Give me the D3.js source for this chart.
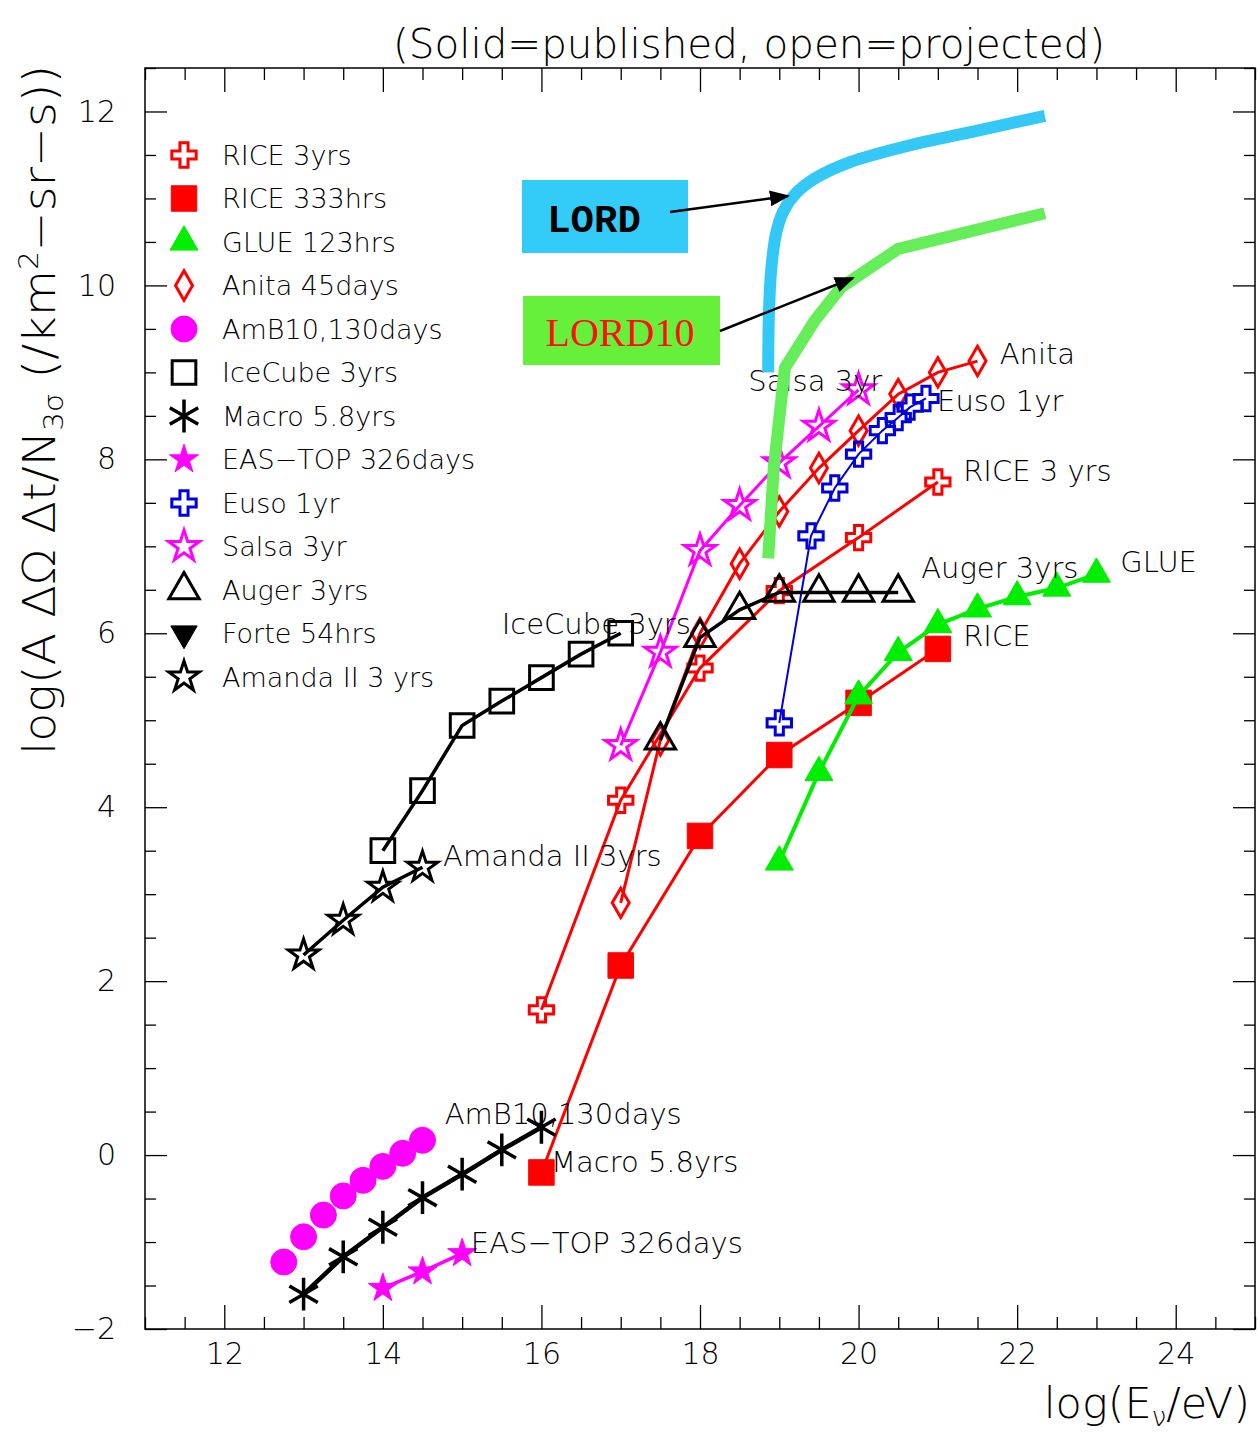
<!DOCTYPE html>
<html>
<head>
<meta charset="utf-8">
<title>Neutrino experiment apertures</title>
<script src="https://cdn.jsdelivr.net/npm/d3@7"></script>
<style>
  body { margin: 0; background: #fff; }
  text { font-family: "DejaVu Sans", sans-serif; font-weight: 200; fill: #000; }
  .tick line { stroke: #000; stroke-width: 1.3; }
</style>
</head>
<body>
<script>
// values: log10(E/eV) on x, log(aperture) on y
var riceX      = [16, 17, 18, 19, 20, 21];
var rice3yrY   = [1.67, 4.08, 5.6, 6.49, 7.1, 7.74];
var rice333Y   = [-0.2, 2.18, 3.67, 4.6, 5.2, 5.82];
var glueX      = [19, 19.5, 20, 20.5, 21, 21.5, 22, 22.5, 23];
var glueY      = [3.37, 4.4, 5.28, 5.78, 6.1, 6.28, 6.42, 6.52, 6.68];
var anitaX     = [17, 17.5, 18, 18.5, 19, 19.5, 20, 20.5, 21, 21.5];
var anitaY     = [2.9, 4.77, 6.0, 6.8, 7.4, 7.9, 8.33, 8.75, 9.0, 9.13];
var amb10X     = [12.75, 13, 13.25, 13.5, 13.75, 14, 14.25, 14.5];
var amb10Y     = [-1.23, -0.94, -0.69, -0.47, -0.29, -0.13, 0.02, 0.17];
var icecubeX   = [14, 14.5, 15, 15.5, 16, 16.5, 17];
var icecubeY   = [3.5, 4.19, 4.94, 5.22, 5.49, 5.76, 6.0];
var macroX     = [13, 13.5, 14, 14.5, 15, 15.5, 16];
var macroY     = [-1.6, -1.17, -0.83, -0.49, -0.22, 0.06, 0.32];
var eastopX    = [14, 14.5, 15];
var eastopY    = [-1.53, -1.34, -1.13];
var eusoX      = [19, 19.4, 19.7, 20, 20.3, 20.5, 20.65, 20.85];
var eusoY      = [4.97, 7.12, 7.67, 8.06, 8.33, 8.48, 8.6, 8.7];
var salsaX     = [17, 17.5, 18, 18.5, 19, 19.5, 20];
var salsaY     = [4.71, 5.78, 6.95, 7.47, 7.96, 8.38, 8.8];
var augerX     = [17.5, 18, 18.5, 19, 19.5, 20, 20.5];
var augerY     = [4.77, 5.95, 6.27, 6.47, 6.47, 6.47, 6.47];
var forteX     = [];
var forteY     = [];
var amandaX    = [13, 13.5, 14, 14.5];
var amandaY    = [2.3, 2.7, 3.08, 3.31];

// LORD projections (thick curves)
var lordX   = [18.86, 18.87, 18.9, 18.96, 19.05, 19.2, 19.45, 19.9, 20.6, 21.5, 22.35];
var lordY   = [9.0, 9.7, 10.2, 10.6, 10.85, 11.05, 11.23, 11.42, 11.6, 11.78, 11.95];
var lord10X = [18.86, 18.93, 19.07, 19.45, 19.78, 20.5, 22.35];
var lord10Y = [6.86, 7.9, 9.05, 9.6, 9.98, 10.42, 10.83];

var xTicks = [12, 14, 16, 18, 20, 22, 24];
var yTicks = [-2, 0, 2, 4, 6, 8, 10, 12];

var W = 1258, H = 1435;
var RED = '#ff0000', GREEN = '#00ee00', MAG = '#ff00ff', BLUE = '#0000dd', BLK = '#000';

var series = [
  { name: 'RICE 3yrs',       x: riceX,    y: rice3yrY, color: RED,   sym: d3.symbolCross,    size: 330, fill: false, lw: 3 },
  { name: 'RICE 333hrs',     x: riceX,    y: rice333Y, color: RED,   sym: d3.symbolSquare,   size: 650, fill: true,  lw: 3 },
  { name: 'GLUE 123hrs',     x: glueX,    y: glueY,    color: GREEN, sym: d3.symbolTriangle, size: 340, fill: true,  lw: 4 },
  { name: 'Anita 45days',    x: anitaX,   y: anitaY,   color: RED,   sym: d3.symbolDiamond,  size: 250, fill: false, lw: 3 },
  { name: 'AmB10,130days',   x: amb10X,   y: amb10Y,   color: MAG,   sym: d3.symbolCircle,   size: 530, fill: true,  lw: 0 },
  { name: 'IceCube 3yrs',    x: icecubeX, y: icecubeY, color: BLK,   sym: d3.symbolSquare,   size: 560, fill: false, lw: 3.5 },
  { name: 'Macro 5.8yrs',    x: macroX,   y: macroY,   color: BLK,   sym: d3.symbolAsterisk, size: 760, fill: false, lw: 4.5 },
  { name: 'EAS\u2212TOP 326days', x: eastopX, y: eastopY, color: MAG, sym: d3.symbolStar,    size: 260, fill: true,  lw: 3.5 },
  { name: 'Euso 1yr',        x: eusoX,    y: eusoY,    color: BLUE,  sym: d3.symbolCross,    size: 330, fill: false, lw: 2 },
  { name: 'Salsa 3yr',       x: salsaX,   y: salsaY,   color: MAG,   sym: d3.symbolStar,     size: 300, fill: false, lw: 3 },
  { name: 'Auger 3yrs',      x: augerX,   y: augerY,   color: BLK,   sym: d3.symbolTriangle, size: 400, fill: false, lw: 3.5 },
  { name: 'Forte 54hrs',     x: forteX,   y: forteY,   color: BLK,   sym: d3.symbolTriangle, size: 300, fill: true,  lw: 3, flip: true },
  { name: 'Amanda II 3 yrs', x: amandaX,  y: amandaY,  color: BLK,   sym: d3.symbolStar,     size: 290, fill: false, lw: 3.5 }
];

// text placed next to the curves (data coordinates)
var notes = [
  ['Anita', 21.78, 9.22], ['Salsa 3yr', 18.61, 8.91], ['Euso 1yr', 20.99, 8.68],
  ['RICE 3 yrs', 21.32, 7.87], ['Auger 3yrs', 20.79, 6.75], ['GLUE', 23.3, 6.82],
  ['RICE', 21.32, 5.97], ['IceCube 3yrs', 15.5, 6.11], ['Amanda II 3yrs', 14.76, 3.44],
  ['AmB10,130days', 14.78, 0.48], ['Macro 5.8yrs', 16.12, -0.07], ['EAS\u2212TOP 326days', 15.11, -1.01]
];

var svg = d3.select('body').append('svg')
  .attr('width', W)
  .attr('height', H);

var x = d3.scaleLinear().domain([11, 25]).range([145, 1255]);
var y = d3.scaleLinear().domain([-2, 12.5]).range([1329, 68]);

var defs = svg.append('defs');
defs.append('marker')
  .attr('id', 'arrow')
  .attr('viewBox', '0 0 10 10')
  .attr('refX', 9).attr('refY', 5)
  .attr('markerWidth', 8).attr('markerHeight', 8)
  .attr('orient', 'auto')
  .append('path').attr('d', 'M0,1 L10,5 L0,9 z').attr('fill', '#000');

// ---- axes (ticks point inwards on all four sides)
var xMinor = d3.range(11, 25.001, 0.5).filter(function (v) { return v % 2 !== 0; });
var yMinor = d3.range(-2, 12.501, 0.5).filter(function (v) { return v % 2 !== 0; });

function clean(g) { g.select('.domain').remove(); }

svg.append('g').attr('transform', 'translate(0,1329)')
  .call(d3.axisBottom(x).tickValues(xMinor).tickSize(-12).tickFormat('')).call(clean);
svg.append('g').attr('transform', 'translate(0,1329)')
  .call(d3.axisBottom(x).tickValues(xTicks).tickSize(-24).tickPadding(14).tickFormat(d3.format('d')))
  .call(clean)
  .selectAll('text').style('font-size', '30px').style('fill', '#000');

svg.append('g').attr('transform', 'translate(0,68)')
  .call(d3.axisTop(x).tickValues(xMinor).tickSize(-12).tickFormat('')).call(clean);
svg.append('g').attr('transform', 'translate(0,68)')
  .call(d3.axisTop(x).tickValues(xTicks).tickSize(-24).tickFormat('')).call(clean);

svg.append('g').attr('transform', 'translate(145,0)')
  .call(d3.axisLeft(y).tickValues(yMinor).tickSize(-11).tickFormat('')).call(clean);
svg.append('g').attr('transform', 'translate(145,0)')
  .call(d3.axisLeft(y).tickValues(yTicks).tickSize(-22).tickPadding(29)
    .tickFormat(function (d) { return d < 0 ? '\u2212' + (-d) : d; }))
  .call(clean)
  .selectAll('text').style('font-size', '30px').style('fill', '#000');

svg.append('g').attr('transform', 'translate(1255,0)')
  .call(d3.axisRight(y).tickValues(yMinor).tickSize(-11).tickFormat('')).call(clean);
svg.append('g').attr('transform', 'translate(1255,0)')
  .call(d3.axisRight(y).tickValues(yTicks).tickSize(-22).tickFormat('')).call(clean);

svg.append('rect')
  .attr('x', x(11)).attr('y', y(12.5))
  .attr('width', x(25) - x(11)).attr('height', y(-2) - y(12.5))
  .attr('fill', 'none').attr('stroke', '#000').attr('stroke-width', 1.5);

// ---- series
function drawMarker(g, s, px, py) {
  var t = 'translate(' + px + ',' + py + ')' + (s.flip ? ' rotate(180)' : '');
  var asterisk = s.sym === d3.symbolAsterisk;
  g.append('path')
    .attr('d', d3.symbol(s.sym, s.size)())
    .attr('transform', t)
    .attr('fill', s.fill && !asterisk ? s.color : 'none')
    .attr('stroke', s.color)
    .attr('stroke-width', s.fill ? 1 : (asterisk ? 3.5 : 3))
    .attr('stroke-linejoin', 'miter');
}

var line = d3.line()
  .x(function (d) { return x(d[0]); })
  .y(function (d) { return y(d[1]); });

var plot = svg.append('g');
series.forEach(function (s) {
  var pts = s.x.map(function (v, i) { return [v, s.y[i]]; });
  var g = plot.append('g');
  if (s.lw > 0 && pts.length > 1) {
    g.append('path')
      .attr('d', line(pts))
      .attr('fill', 'none')
      .attr('stroke', s.color)
      .attr('stroke-width', s.lw);
  }
  pts.forEach(function (p) { drawMarker(g, s, x(p[0]), y(p[1])); });
});

// ---- legend
var legend = svg.append('g');
series.forEach(function (s, i) {
  var ly = 155 + i * 43.5;
  drawMarker(legend, s, 184, ly);
  legend.append('text')
    .attr('x', 222).attr('y', ly).attr('dy', '0.36em')
    .style('font-size', '27px')
    .text(s.name);
});

// ---- curve labels
svg.append('g').selectAll('text')
  .data(notes).enter().append('text')
  .attr('x', function (d) { return x(d[1]); })
  .attr('y', function (d) { return y(d[2]); })
  .attr('dy', '0.36em')
  .style('font-size', '29px')
  .text(function (d) { return d[0]; });

// ---- LORD curves and their boxes
svg.append('path')
  .attr('d', d3.line().curve(d3.curveCatmullRom)
    .x(function (d, i) { return x(lordX[i]); })
    .y(function (d) { return y(d); })(lordY))
  .attr('fill', 'none').attr('stroke', '#33c8f5').attr('stroke-width', 12);

svg.append('path')
  .attr('d', d3.line()
    .x(function (d, i) { return x(lord10X[i]); })
    .y(function (d) { return y(d); })(lord10Y))
  .attr('fill', 'none').attr('stroke', '#66ee5a').attr('stroke-width', 12)
  .attr('stroke-linejoin', 'round');

svg.append('rect').attr('x', 522).attr('y', 180).attr('width', 166).attr('height', 73).attr('fill', '#33ccf8');
svg.append('text').attr('x', 594).attr('y', 218).attr('dy', '0.35em')
  .attr('text-anchor', 'middle')
  .style('font-family', '"Liberation Mono", "DejaVu Sans Mono", monospace')
  .style('font-weight', 'bold').style('font-size', '39px').style('fill', '#000')
  .text('LORD');
svg.append('line').attr('x1', 670).attr('y1', 212).attr('x2', 788).attr('y2', 196)
  .attr('stroke', '#000').attr('stroke-width', 2.5).attr('marker-end', 'url(#arrow)');

svg.append('rect').attr('x', 523).attr('y', 296).attr('width', 197).attr('height', 69).attr('fill', '#66f03a');
svg.append('text').attr('x', 620).attr('y', 332).attr('dy', '0.35em')
  .attr('text-anchor', 'middle')
  .style('font-family', '"Liberation Serif", "DejaVu Serif", serif')
  .style('font-weight', 'normal')
  .style('font-size', '40px').style('fill', '#ff1010')
  .text('LORD10');
svg.append('line').attr('x1', 720).attr('y1', 331).attr('x2', 853).attr('y2', 278)
  .attr('stroke', '#000').attr('stroke-width', 2.5).attr('marker-end', 'url(#arrow)');

// ---- titles
svg.append('text')
  .attr('x', 749).attr('y', 58)
  .attr('text-anchor', 'middle')
  .attr('textLength', 712).attr('lengthAdjust', 'spacingAndGlyphs')
  .style('font-size', '40px')
  .text('(Solid=published, open=projected)');

var xl = svg.append('text')
  .attr('x', 1250).attr('y', 1418)
  .attr('text-anchor', 'end')
  .style('font-size', '43px');
xl.append('tspan').text('log(E');
xl.append('tspan').attr('dy', 8).style('font-size', '26px').text('\u03bd');
xl.append('tspan').attr('dy', -8).text('/eV)');

var yl = svg.append('text')
  .attr('transform', 'translate(55,410) rotate(-90)')
  .attr('text-anchor', 'middle')
  .attr('textLength', 690).attr('lengthAdjust', 'spacingAndGlyphs')
  .style('font-size', '44px');
yl.append('tspan').text('log(A \u0394\u03a9 \u0394t/N');
yl.append('tspan').attr('dy', 8).style('font-size', '27px').text('3\u03c3');
yl.append('tspan').attr('dy', -8).text(' (/km');
yl.append('tspan').attr('dy', -17).style('font-size', '27px').text('2');
yl.append('tspan').attr('dy', 17).text('\u2212sr\u2212s))');
</script>
</body>
</html>
